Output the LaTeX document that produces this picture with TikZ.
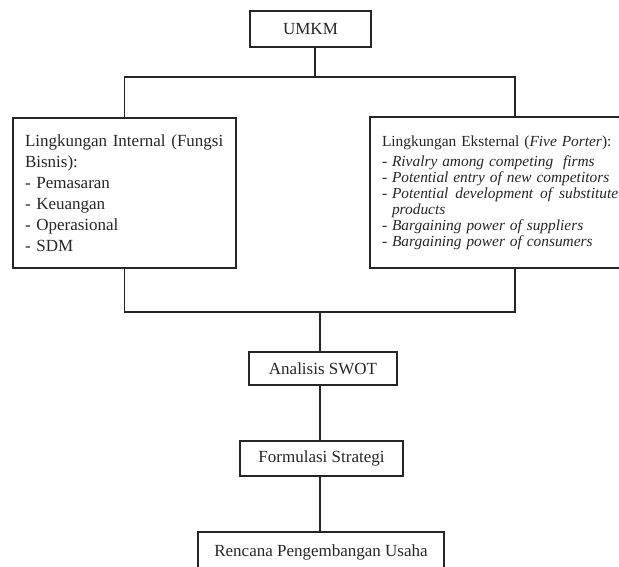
\documentclass[tikz,border=0pt]{standalone}
\usepackage{fontspec}
\setmainfont{Liberation Serif}
\usepackage{tikz}

\begin{document}
\begin{tikzpicture}[x=1pt, y=-1pt, line width=1.5pt,
		box/.style={draw=black!85, text=black!85, inner sep=0pt, font=\fontsize{17}{21}\selectfont},
		listbox/.style={box, align=left, inner xsep=12pt, inner ysep=0pt}]
			%%%%% START %%%%%
			
			\useasboundingbox (0, 0) rectangle (619, 567);
			\clip (0, 0) rectangle (619, 567);
			
			\node[box, minimum width=121pt, minimum height=36pt] (umkm) at (310.5, 29) {UMKM};
			
			\node[listbox, text width=199pt, minimum height=150pt] (internal) at (124.5, 193)
				{Lingkungan Internal (Fungsi\\ Bisnis):\\ - Pemasaran\\ - Keuangan\\ - Operasional\\ - SDM};
			
			\node[listbox, text width=266pt, minimum height=151pt,
				font=\fontsize{14.7}{15.6}\selectfont] (eksternal) at (515, 192.5)
				{\fontsize{15.4}{16}\selectfont Lingkungan Eksternal (\textit{Five Porter}):\\[4pt]
				\textit{- Rivalry among competing\ \ firms}\\
				\textit{- Potential entry of new competitors}\\
				\textit{- Potential\hspace{0.45em}development\hspace{0.45em}of\hspace{0.45em}substitute}\\
				\hspace*{10pt}\textit{products}\\
				\textit{- Bargaining power of suppliers}\\
				\textit{- Bargaining power of consumers}};
			
			\node[box, minimum width=148pt, minimum height=33pt] (swot) at (323, 368.5) {Analisis SWOT};
			\node[box, minimum width=163pt, minimum height=35pt] (formulasi) at (321.5, 458.5) {Formulasi Strategi};
			\node[box, minimum width=246pt, minimum height=40pt] (rencana) at (321, 552) {Rencana Pengembangan Usaha};
			
			% top split
			\coordinate (split) at (315, 77);
			\draw[black!85] (umkm.south -| split) -- (split);
			\draw[black!85] (internal.north) |- (split) -| (eksternal.north);
			
			% bottom join
			\coordinate (join) at (320, 312);
			\draw[black!85] (internal.south) |- (join) -| (eksternal.south);
			\draw[black!85] (join) -- (join |- swot.north);
			
			\draw[black!85] (swot.south -| join) -- (join |- formulasi.north);
			\draw[black!85] (formulasi.south -| join) -- (join |- rencana.north);
			
			%%%%% END %%%%%
		\end{tikzpicture}
\end{document}
